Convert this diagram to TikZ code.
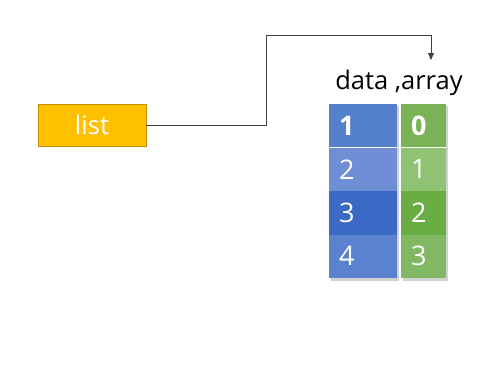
\documentclass[tikz,border=0pt]{standalone}
\usepackage{fontspec}
\setmainfont{Open Sans}
\usetikzlibrary{arrows.meta}
\definecolor{listfill}{HTML}{FFC000}
\definecolor{listdraw}{HTML}{C09000}
\definecolor{bA}{HTML}{5580CC}
\definecolor{bB}{HTML}{6E8FD6}
\definecolor{bC}{HTML}{3A69C6}
\definecolor{bD}{HTML}{5A82CE}
\definecolor{gA}{HTML}{78B356}
\definecolor{gB}{HTML}{8FC272}
\definecolor{gC}{HTML}{6AAD44}
\definecolor{gD}{HTML}{80B863}
\definecolor{conn}{HTML}{404040}
\tikzset{
  bigfont/.style={font=\fontsize{25.5}{29}\selectfont},
  digfont/.style={font=\fontsize{27}{31}\selectfont},
  cell/.style={minimum height=43.5pt, inner sep=0pt, outer sep=0pt, text=white, anchor=north west, text width=#1, align=left},
}
\begin{document}
\begin{tikzpicture}[x=1pt,y=-1pt]
\useasboundingbox (0,0) rectangle (485,370);
% shadows
\fill[black!30,opacity=0.6] (331,106) rectangle (399,281);
\fill[black!30,opacity=0.6] (403,106) rectangle (448,281);
% list
\node[draw=listdraw, fill=listfill, minimum width=108pt, minimum height=42pt, inner sep=0pt, text=white, bigfont] (list) at (92,125) {list};
% title
\node[bigfont, inner sep=0pt] (title) at (399,83) {data ,array};
% blue column
\node[cell=68pt, fill=bA, font=\fontsize{27}{31}\selectfont\bfseries] (b1) at (329,104) {\hspace{10pt}1};
\node[cell=68pt, fill=bB, digfont] (b2) at (329,147.5) {\hspace{10pt}2};
\node[cell=68pt, fill=bC, digfont] (b3) at (329,191) {\hspace{10pt}3};
\node[cell=68pt, fill=bD, digfont] (b4) at (329,234.5) {\hspace{10pt}4};
% green column
\node[cell=45pt, fill=gA, font=\fontsize{27}{31}\selectfont\bfseries] (g1) at (401,104) {\hspace{10pt}0};
\node[cell=45pt, fill=gB, digfont] (g2) at (401,147.5) {\hspace{10pt}1};
\node[cell=45pt, fill=gC, digfont] (g3) at (401,191) {\hspace{10pt}2};
\node[cell=45pt, fill=gD, digfont] (g4) at (401,234.5) {\hspace{10pt}3};
% header separators
\draw[white, line width=1.5pt] (b1.south west) -- (b1.south east);
\draw[white, line width=1.5pt] (g1.south west) -- (g1.south east);
% connector
\coordinate (tip) at (431,60);
\draw[conn, line width=0.9pt, -{Triangle[length=7pt,width=6pt]}] (list.east) -| (266,35) -| (tip);
\end{tikzpicture}
\end{document}
